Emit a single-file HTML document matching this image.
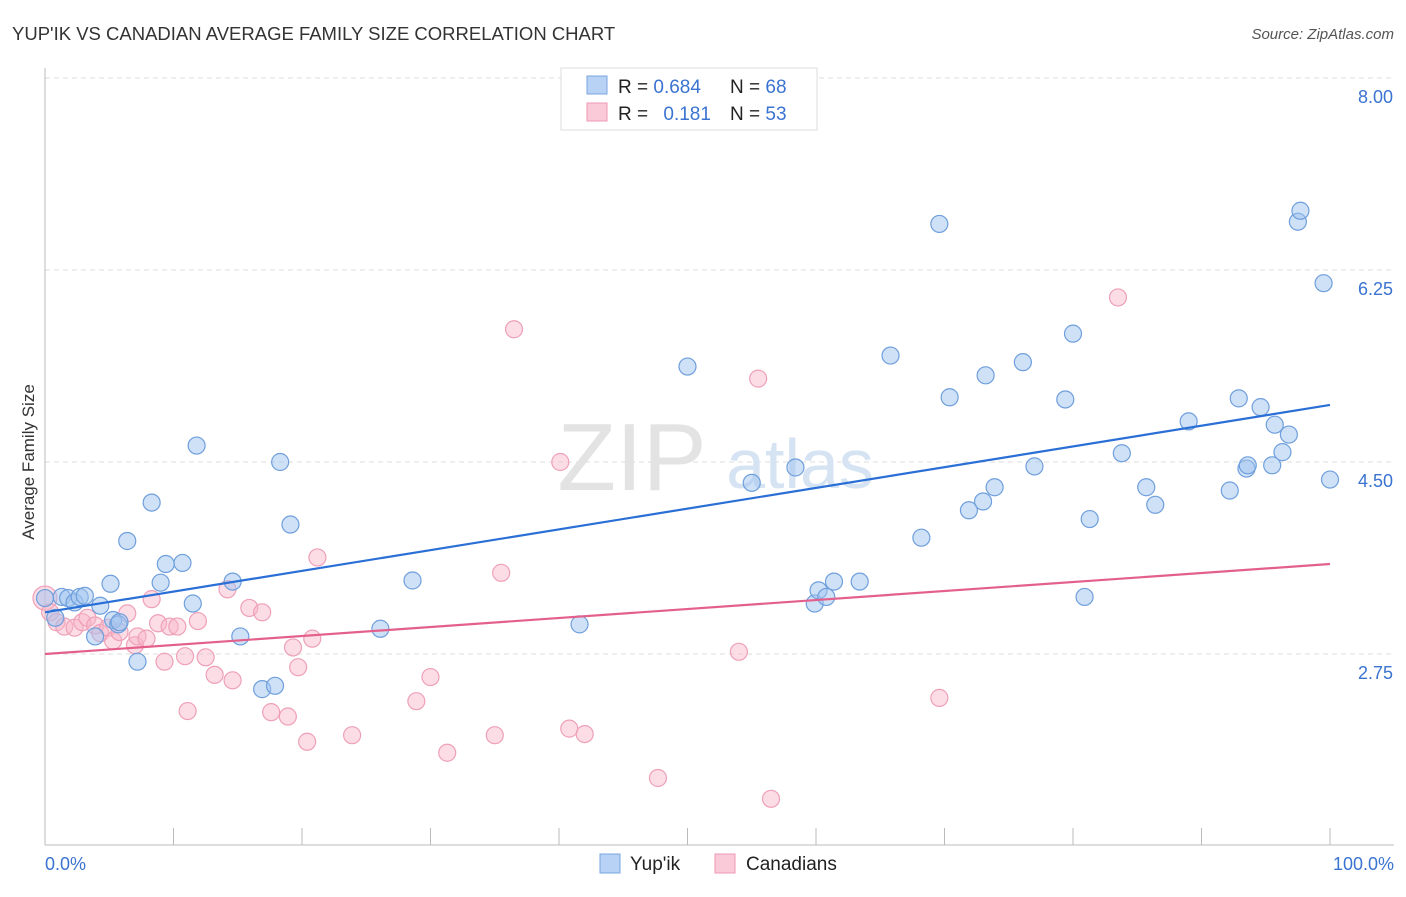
<!DOCTYPE html>
<html><head><meta charset="utf-8"><style>
body{margin:0;background:#fff;font-family:"Liberation Sans",sans-serif;}
svg text{font-family:"Liberation Sans",sans-serif;}
</style></head><body>
<svg width="1406" height="892" xmlns="http://www.w3.org/2000/svg">
<text x="12" y="40" font-size="18.5" fill="#333">YUP'IK VS CANADIAN AVERAGE FAMILY SIZE CORRELATION CHART</text>
<text x="1394" y="39" font-size="15" fill="#555" font-style="italic" text-anchor="end">Source: ZipAtlas.com</text>
<g id="grid"></g>
<g>
<text x="632" y="490" font-size="96" font-family="Liberation Serif,serif" fill="#e3e3e3" text-anchor="middle">ZIP</text>
<text x="800" y="488" font-size="70" fill="#d5e3f3" text-anchor="middle">atlas</text>
</g>
<line x1="45" y1="68" x2="45" y2="845" stroke="#bbb"/>
<line x1="45" y1="845" x2="1394" y2="845" stroke="#bbb"/>
<g id="ticks"></g>
<g id="pts"></g>
<g id="lines"></g>
<text x="28" y="456" font-size="17" fill="#333" transform="rotate(-90 34 456)" text-anchor="middle">Average Family Size</text>
<text x="45" y="870" font-size="18" fill="#3a73d0">0.0%</text>
<text x="1394" y="870" font-size="18" fill="#3a73d0" text-anchor="end">100.0%</text>
<g>
<rect x="561" y="68" width="256" height="62" fill="#fff" stroke="#ddd"/>
<rect x="587" y="76" width="20" height="18" fill="#b7d2f5" stroke="#7aa6e0"/>
<rect x="587" y="103" width="20" height="18" fill="#fbcad8" stroke="#ee9ab4"/>
<text x="618" y="93" font-size="19" fill="#222">R = <tspan fill="#3a73d0">0.684</tspan></text>
<text x="730" y="93" font-size="19" fill="#222">N = <tspan fill="#3a73d0">68</tspan></text>
<text x="618" y="120" font-size="19" fill="#222">R = <tspan fill="#3a73d0" dx="10">0.181</tspan></text>
<text x="730" y="120" font-size="19" fill="#222">N = <tspan fill="#3a73d0">53</tspan></text>
</g>
<g>
<rect x="600" y="854" width="20" height="19" fill="#b7d2f5" stroke="#7aa6e0"/>
<text x="630" y="870" font-size="19" fill="#222">Yup'ik</text>
<rect x="715" y="854" width="20" height="19" fill="#fbcad8" stroke="#ee9ab4"/>
<text x="746" y="870" font-size="19" fill="#222">Canadians</text>
</g>
</svg>
<script>
const yTicks=[8.00,6.25,4.50,2.75];
const yTickLabels=["8.00","6.25","4.50","2.75"];
const xTicks=[0,10,20,30,40,50,60,70,80,90,100];
const yupikX=[0,0.8,1.3,1.8,2.3,2.7,3.1,3.9,4.3,5.1,5.3,5.7,5.8,6.4,7.2,8.3,9.0,9.4,10.7,11.5,11.8,14.6,15.2,16.9,17.9,18.3,19.1,26.1,28.6,41.6,50.0,55.0,58.4,59.9,60.2,60.8,61.4,63.4,65.8,68.2,69.6,70.4,71.9,73.0,73.2,73.9,76.1,77.0,79.4,80.0,80.9,81.3,83.8,85.7,86.4,89.0,92.2,92.9,93.5,93.6,94.6,95.5,95.7,96.3,96.8,97.5,97.7,99.5,100];
const yupikY=[3.26,3.08,3.27,3.26,3.22,3.27,3.28,2.91,3.19,3.39,3.06,3.02,3.04,3.78,2.68,4.13,3.40,3.57,3.58,3.21,4.65,3.41,2.91,2.43,2.46,4.50,3.93,2.98,3.42,3.02,5.37,4.31,4.45,3.21,3.33,3.27,3.41,3.41,5.47,3.81,6.67,5.09,4.06,4.14,5.29,4.27,5.41,4.46,5.07,5.67,3.27,3.98,4.58,4.27,4.11,4.87,4.24,5.08,4.44,4.47,5.00,4.47,4.84,4.59,4.75,6.69,6.79,6.13,4.34];
const canX=[0,0.4,0.9,1.5,2.3,2.9,3.3,3.9,4.3,4.9,5.3,5.8,6.4,7.0,7.2,7.9,8.3,8.8,9.3,9.7,10.3,10.9,11.1,11.9,12.5,13.2,14.2,14.6,15.9,16.9,17.6,18.9,19.3,19.7,20.4,20.8,21.2,23.9,28.9,30.0,31.3,35.0,35.5,36.5,40.1,40.8,42.0,47.7,54.0,55.5,56.5,69.6,83.5];
const canY=[3.26,3.13,3.04,3.00,2.99,3.04,3.08,3.01,2.94,2.99,2.87,2.95,3.12,2.83,2.91,2.89,3.25,3.03,2.68,3.00,3.00,2.73,2.23,3.05,2.72,2.56,3.34,2.51,3.17,3.13,2.22,2.18,2.81,2.63,1.95,2.89,3.63,2.01,2.32,2.54,1.85,2.01,3.49,5.71,4.50,2.07,2.02,1.62,2.77,5.26,1.43,2.35,6.00];
const yupikTrend=[3.13,5.02];
const canTrend=[2.75,3.57];
const NS="http://www.w3.org/2000/svg";
const sx=v=>45+v*12.85;
const sy=v=>78+(8-v)*192/1.75;
function mk(tag,attrs,parent){const e=document.createElementNS(NS,tag);for(const k in attrs)e.setAttribute(k,attrs[k]);document.getElementById(parent).appendChild(e);return e;}
yTicks.forEach((t,i)=>{
 const l=mk('line',{x1:45,x2:1394,y1:sy(t),y2:sy(t),stroke:'#ddd','stroke-dasharray':'5,4'},'grid');
 
 
 const tx=mk('text',{x:1393,y:sy(t)+25,'font-size':18,fill:'#3a73d0','text-anchor':'end'},'grid');
 tx.textContent=yTickLabels[i];
 
 
});
xTicks.forEach(t=>{
 const l=mk('line',{x1:sx(t),x2:sx(t),y1:828,y2:845,stroke:'#bbb'},'ticks');
 
 
});
canX.forEach((x,i)=>{
 const c=mk('circle',{cx:sx(x),cy:sy(canY[i]),r:i==0?12:8.5,fill:'rgba(248,180,200,0.45)',stroke:'#eea0b8','stroke-width':1.2},'pts');
 
 
});
yupikX.forEach((x,i)=>{
 const c=mk('circle',{cx:sx(x),cy:sy(yupikY[i]),r:8.5,fill:'rgba(160,195,240,0.5)',stroke:'#6f9fdc','stroke-width':1.2},'pts');
 
 
});
const l1=mk('line',{x1:sx(0),x2:sx(100),y1:sy(yupikTrend[0]),y2:sy(yupikTrend[1]),stroke:'#2a6fd6','stroke-width':2.2},'lines');


const l2=mk('line',{x1:sx(0),x2:sx(100),y1:sy(canTrend[0]),y2:sy(canTrend[1]),stroke:'#e4608c','stroke-width':2.2},'lines');


</script>
</body></html>
